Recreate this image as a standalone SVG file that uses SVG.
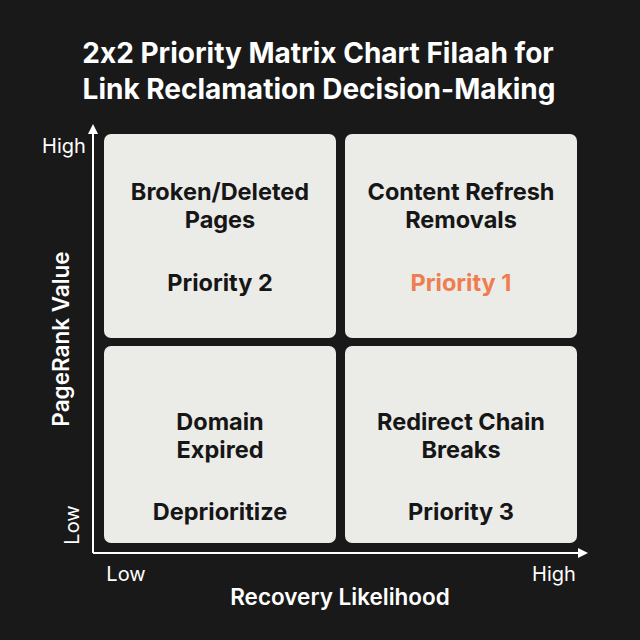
<svg xmlns="http://www.w3.org/2000/svg" width="640" height="640" viewBox="0 0 640 640">
<defs>
<style>
text{font-feature-settings:"calt" 0}
.title{font-family:Inter,"Liberation Sans",sans-serif;font-weight:700;font-size:28px;fill:#ffffff;text-anchor:middle}
.box{fill:#ebebe8}
.lbl{font-family:Inter,"Liberation Sans",sans-serif;font-weight:700;font-size:23.5px;fill:#161616;text-anchor:middle}
.p1{fill:#ee7d50}
.tick{font-family:Inter,"Liberation Sans",sans-serif;font-size:20px;fill:#ffffff;text-anchor:middle}
.axis{font-family:Inter,"Liberation Sans",sans-serif;font-weight:600;font-size:22.5px;fill:#ffffff;text-anchor:middle}
.ax{stroke:#ffffff;stroke-width:2;fill:none}
</style>
<marker id="ah" markerWidth="10" markerHeight="10" refX="8" refY="5" orient="auto" markerUnits="userSpaceOnUse">
<path d="M0,0 L10,5 L0,10 Z" fill="#ffffff"/>
</marker>
</defs>
<rect width="640" height="640" fill="#191919"/>
<text class="title" x="318" y="63">2x2 Priority Matrix Chart Filaah for</text>
<text class="title" x="319" y="99">Link Reclamation Decision-Making</text>
<g id="connectors">
<line class="ax" x1="93" y1="553" x2="93" y2="126" marker-end="url(#ah)"/>
<line class="ax" x1="93" y1="553" x2="586" y2="553" marker-end="url(#ah)"/>
</g>
<g id="q-tl">
<rect class="box" x="104" y="134" width="232" height="204" rx="7"/>
<text class="lbl" x="220" y="200">Broken/Deleted</text>
<text class="lbl" x="220" y="228">Pages</text>
<text class="lbl" x="220" y="291">Priority 2</text>
</g>
<g id="q-tr">
<rect class="box" x="345" y="134" width="232" height="204" rx="7"/>
<text class="lbl" x="461" y="200">Content Refresh</text>
<text class="lbl" x="461" y="228">Removals</text>
<text class="lbl p1" x="461" y="291">Priority 1</text>
</g>
<g id="q-bl">
<rect class="box" x="104" y="346" width="232" height="197" rx="7"/>
<text class="lbl" x="220" y="430">Domain</text>
<text class="lbl" x="220" y="458">Expired</text>
<text class="lbl" x="220" y="520">Deprioritize</text>
</g>
<g id="q-br">
<rect class="box" x="345" y="346" width="232" height="197" rx="7"/>
<text class="lbl" x="461" y="430">Redirect Chain</text>
<text class="lbl" x="461" y="458">Breaks</text>
<text class="lbl" x="461" y="520">Priority 3</text>
</g>
<g id="labels">
<text class="tick" x="64" y="153">High</text>
<text class="tick" transform="translate(79,525) rotate(-90)">Low</text>
<text class="tick" x="126" y="581">Low</text>
<text class="tick" x="554" y="581">High</text>
<text class="axis" transform="translate(69,339) rotate(-90)">PageRank Value</text>
<text class="axis" x="340" y="605">Recovery Likelihood</text>
</g>
</svg>
